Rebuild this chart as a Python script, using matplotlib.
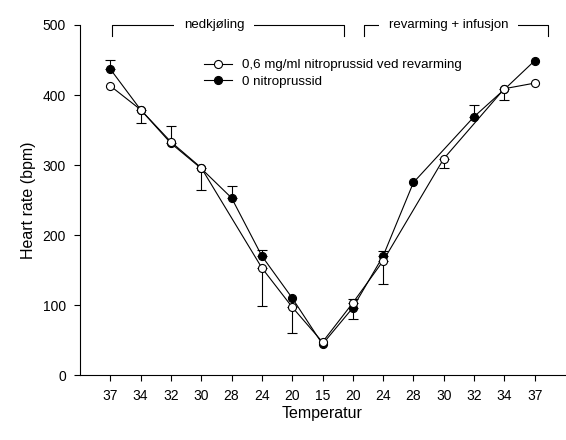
"""Heart rate during cooling and rewarming, with and without nitroprusside."""
import numpy as np
import matplotlib
matplotlib.use("Agg")
import matplotlib.pyplot as plt

plt.rcParams["font.family"] = ["Liberation Sans", "DejaVu Sans"]

nan = np.nan
temps = ["37", "34", "32", "30", "28", "24", "20", "15", "20", "24", "28", "30", "32", "34", "37"]

# 0,6 mg/ml nitroprussid ved revarming (open circles, error bars drawn downward)
nitro = [413, 379, 333, 296, nan, 153, 97, 47, 103, 163, nan, 309, nan, 409, 417]
nitro_err = [nan, 19, nan, 32, nan, 54, 37, nan, 23, 33, nan, 14, nan, 16, nan]

# 0 nitroprussid (filled circles, error bars drawn upward)
control = [437, 379, 331, 295, 253, 170, 110, 44, 96, 170, 275, nan, 369, 408, 449]
control_err = [13, nan, 25, nan, 17, 9, nan, nan, 12, 7, nan, nan, 17, nan, nan]

label_nitro = "0,6 mg/ml nitroprussid ved revarming"
label_control = "0 nitroprussid"
phase_cool = "nedkjøling"
phase_warm = "revarming + infusjon"


def draw_series(ax, x, y, err, up, face, label):
    y = np.asarray(y, float)
    err = np.asarray(err, float)
    ok = ~np.isnan(y)
    eb = ~np.isnan(err)
    lower = np.zeros_like(err)
    upper = np.zeros_like(err)
    if up:
        upper = err
    else:
        lower = err
    ax.errorbar(x[eb], y[eb], yerr=[lower[eb], upper[eb]], fmt="none",
                ecolor="black", elinewidth=0.8, capsize=3.8, capthick=0.8, zorder=2)
    ax.plot(x[ok], y[ok], "-", color="black", lw=0.8, marker="o", ms=5.8,
            mfc=face, mec="black", mew=0.8, label=label, zorder=3)


fig = plt.figure(figsize=(5.66, 4.4), dpi=100)
ax = fig.add_axes([80 / 566, 1 - 375 / 440, 485 / 566, 350 / 440])

x = np.arange(len(temps))
draw_series(ax, x, control, control_err, True, "black", label_control)
draw_series(ax, x, nitro, nitro_err, False, "white", label_nitro)

ax.set_xlim(-1, 15)
ax.set_ylim(0, 500)
ax.set_xticks(x)
ax.set_xticklabels(temps)
ax.set_yticks(range(0, 501, 100))
ax.spines["top"].set_visible(False)
ax.spines["right"].set_visible(False)
for s in ("left", "bottom"):
    ax.spines[s].set_linewidth(0.8)
ax.tick_params(direction="out", length=4, width=0.8, labelsize=10, pad=6)
ax.set_xlabel("Temperatur", fontsize=11.5, labelpad=2)
ax.set_ylabel("Heart rate (bpm)", fontsize=11.5, labelpad=5)

# phase brackets along the top
for x0, x1, xt, text in ((0.07, 7.72, 3.43, phase_cool), (8.38, 14.45, 11.15, phase_warm)):
    ax.plot([x0, x0, x1, x1], [484, 500, 500, 484], color="black", lw=0.8, clip_on=False)
    ax.text(xt, 500, text, ha="center", va="center", fontsize=9.5,
            bbox=dict(facecolor="white", edgecolor="none", pad=7))

handles, labels = ax.get_legend_handles_labels()
ax.legend(handles[::-1], labels[::-1], loc="upper left", bbox_to_anchor=(0.255, 0.903),
          frameon=False, fontsize=9.6, handlelength=2.1, handletextpad=0.75,
          labelspacing=0.3, borderpad=0, borderaxespad=0)

fig.savefig("out.png", dpi=100)
